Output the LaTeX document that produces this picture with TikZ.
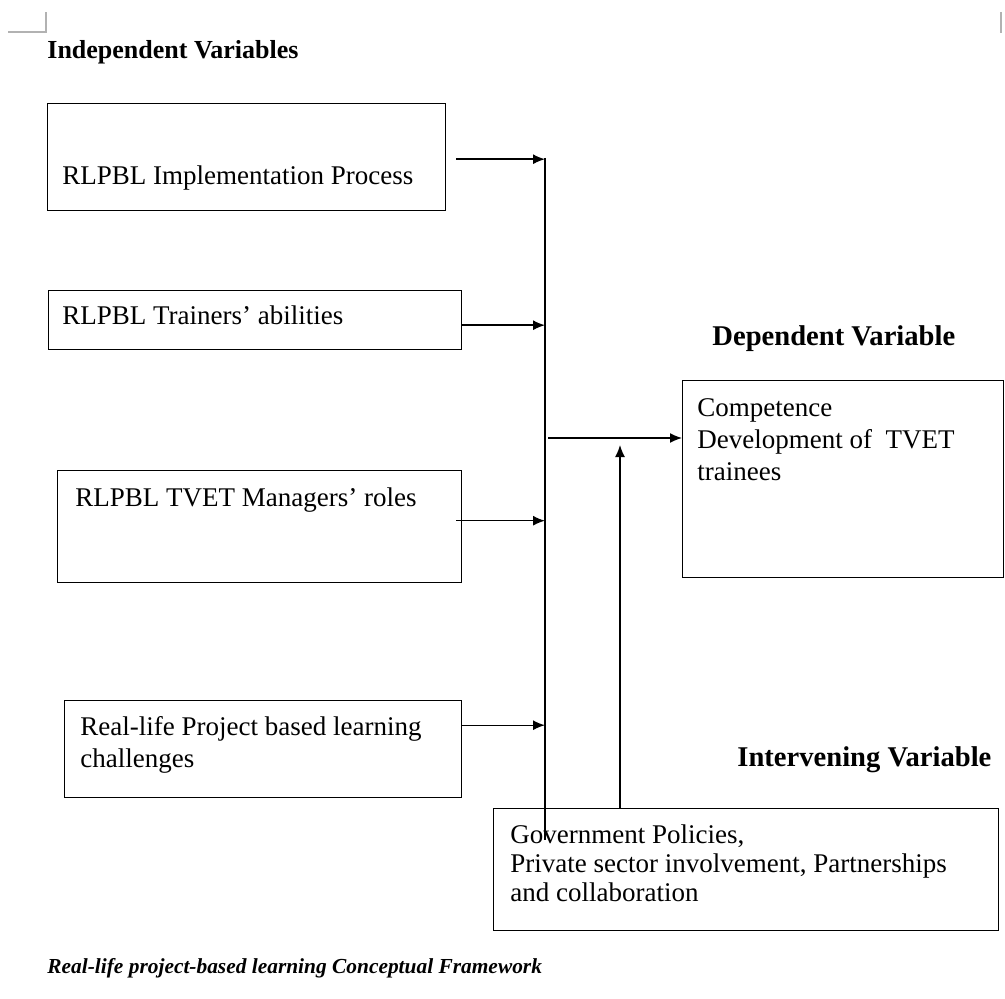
\documentclass[tikz,border=0pt]{standalone}
\usepackage{fontspec}
\setmainfont{Liberation Serif}
\usetikzlibrary{arrows.meta}
\tikzset{
	varbox/.style={draw,line width=0.7pt,anchor=north west,inner sep=0pt},
	vartext/.style={anchor=west,align=left,inner sep=0pt,font=\fontsize{13.5}{16}\selectfont},
	heading/.style={anchor=west,inner sep=0pt,font=\fontsize{13}{15}\selectfont\bfseries},
	link/.style={line width=0.7pt,-{Latex[length=6pt,width=5pt]}},
	cropmark/.style={gray!60,line width=0.6pt}
}
\begin{document}
\begin{tikzpicture}[x=0.5pt,y=-0.5pt]
	\useasboundingbox (0,0) rectangle (1005,999);
	% page corners
	\draw [cropmark] (8,32) -- (46,32) -- (46,12);
	\draw [cropmark] (1001,12) -- (1001,33);
	% independent variables
	\node [heading] (indep) at (47,52) {Independent Variables};
	\node [varbox,minimum width=199pt,minimum height=53.5pt] (impl) at (47,103) {};
	\node [vartext] (impltext) at (62,178) {RLPBL Implementation Process};
	\node [varbox,minimum width=206.5pt,minimum height=29.5pt] (train) at (48,290) {};
	\node [vartext] (traintext) at (62,315) {RLPBL Trainers’ abilities};
	\node [varbox,minimum width=202pt,minimum height=56pt] (manage) at (57,470) {};
	\node [vartext] (managetext) at (75,500) {RLPBL TVET Managers’ roles};
	\node [varbox,minimum width=198.5pt,minimum height=48.5pt] (chall) at (64,700) {};
	\node [vartext] (challtext) at (80,745) {Real-life Project based learning\\challenges};
	% dependent variable
	\node [heading,font=\fontsize{14.3}{16}\selectfont\bfseries] (dep) at (712,339) {Dependent Variable};
	\node [varbox,minimum width=160.5pt,minimum height=98.5pt] (comp) at (682,380) {};
	\node [vartext] (comptext) at (697,440) {Competence\\Development of~ TVET\\trainees};
	% intervening variable
	\node [heading,font=\fontsize{14.3}{16}\selectfont\bfseries] (interv) at (737,760) {Intervening Variable};
	\node [varbox,minimum width=252.5pt,minimum height=61pt] (gov) at (493,808) {};
	\node [vartext,font=\fontsize{13.5}{14.5}\selectfont] (govtext) at (510,863) {Government Policies,\\Private sector involvement, Partnerships\\and collaboration};
	% connectors
	\coordinate (bustop) at (545,158);
	\coordinate (busbot) at (545,840);
	\coordinate (join) at (548,438);
	\coordinate (meet) at (620,445);
	\draw [line width=0.7pt] (bustop) -- (busbot);
	\draw [link,shorten <=5pt] ([yshift=-1pt]impl.east) -- ([yshift=-1pt]impl.east -| bustop);
	\draw [link] ([yshift=-2.5pt]train.east) -- ([yshift=-2.5pt]train.east -| bustop);
	\draw [link,shorten <=-3pt] ([yshift=3pt]manage.east) -- ([yshift=3pt]manage.east -| bustop);
	\draw [link] ([yshift=12pt]chall.east) -- ([yshift=12pt]chall.east -| bustop);
	\draw [link] (join) -- (join -| comp.west);
	\draw [link] (gov.north -| meet) -- (meet);
	% caption
	\node [heading,font=\fontsize{10.7}{13}\selectfont\bfseries\itshape] (caption) at (47,968) {Real-life project-based learning Conceptual Framework};
\end{tikzpicture}
\end{document}
